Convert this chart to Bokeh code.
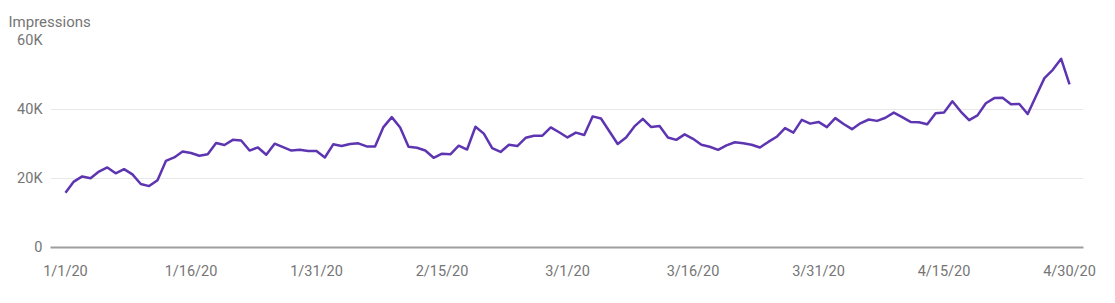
import pandas as pd
from bokeh.plotting import figure
from bokeh.models import FixedTicker, Range1d, ColumnDataSource
from bokeh.embed import file_html
from bokeh.resources import INLINE

# Daily impressions, 1 Jan 2020 - 30 Apr 2020 (thousands)
dates = pd.date_range("2020-01-01", "2020-04-30", freq="D")
impressions_k = [
    15.9, 19.1, 20.6, 20.1, 22.0, 23.2, 21.5, 22.7, 21.2, 18.4,
    17.8, 19.5, 25.1, 26.1, 27.8, 27.4, 26.6, 27.0, 30.3, 29.7,
    31.2, 31.0, 28.1, 29.0, 26.9, 30.1, 29.1, 28.1, 28.3, 28.0,
    28.0, 26.1, 29.9, 29.4, 30.0, 30.2, 29.3, 29.3, 34.9, 37.8,
    34.8, 29.2, 28.9, 28.1, 26.0, 27.2, 27.0, 29.5, 28.4, 35.0,
    33.0, 28.8, 27.7, 29.8, 29.4, 31.8, 32.4, 32.4, 34.8, 33.4,
    31.9, 33.3, 32.6, 38.0, 37.4, 33.7, 30.0, 31.9, 35.1, 37.3,
    34.9, 35.2, 31.9, 31.2, 32.8, 31.5, 29.8, 29.2, 28.3, 29.6,
    30.5, 30.2, 29.8, 29.0, 30.6, 32.1, 34.6, 33.3, 37.0, 35.9,
    36.4, 34.9, 37.5, 35.8, 34.3, 36.0, 37.1, 36.7, 37.6, 39.1,
    37.8, 36.4, 36.3, 35.7, 38.9, 39.1, 42.4, 39.4, 36.9, 38.3,
    41.8, 43.3, 43.4, 41.5, 41.6, 38.7, 43.9, 49.1, 51.5, 54.7,
    47.3,
]
impressions = [v * 1000 for v in impressions_k]
day_index = list(range(len(dates)))

x_tick_index = [0, 15, 30, 45, 60, 75, 90, 105, 120]
x_tick_labels = [f"{dates[i].month}/{dates[i].day}/{dates[i].year % 100}" for i in x_tick_index]
y_ticks = [0, 20000, 40000, 60000]
y_tick_labels = ["0", "20K", "40K", "60K"]
chart_title = "Impressions"

src = ColumnDataSource(dict(x=day_index, y=impressions))

p = figure(width=1115, height=303, output_backend="svg", toolbar_location=None,
           min_border_left=50, min_border_right=32, min_border_top=40, min_border_bottom=56,
           x_range=Range1d(-1.79, 121.67), y_range=Range1d(0, 60000))
p.outline_line_color = None
p.background_fill_color = "white"
p.border_fill_color = "white"

p.line("x", "y", source=src, line_color="#5e35b1", line_width=2.5, line_join="round")

FONT = "Roboto"
GREY = "#757575"

# x axis
xa = p.xaxis[0]
xa.ticker = FixedTicker(ticks=x_tick_index)
xa.major_label_overrides = {i: lab for i, lab in zip(x_tick_index, x_tick_labels)}
xa.axis_line_color = "#9e9e9e"
xa.axis_line_width = 2
xa.major_tick_line_color = None
xa.minor_tick_line_color = None
xa.major_tick_in = 0
xa.major_tick_out = 0
xa.major_label_standoff = 15
xa.major_label_text_font = FONT
xa.major_label_text_font_size = "14.5px"
xa.major_label_text_color = GREY

# y axis
ya = p.yaxis[0]
ya.ticker = FixedTicker(ticks=y_ticks)
ya.major_label_overrides = {t: lab for t, lab in zip(y_ticks, y_tick_labels)}
ya.axis_line_color = None
ya.major_tick_line_color = None
ya.minor_tick_line_color = None
ya.major_tick_in = 0
ya.major_tick_out = 0
ya.major_label_standoff = 8
ya.major_label_text_font = FONT
ya.major_label_text_font_size = "14.5px"
ya.major_label_text_color = GREY

p.xgrid.grid_line_color = None
p.ygrid.grid_line_color = "#e8e8e8"
p.ygrid.grid_line_width = 1

p.title.text = chart_title
p.title.text_font = FONT
p.title.text_font_size = "15px"
p.title.text_font_style = "normal"
p.title.text_color = GREY
p.title.align = "left"
p.title.offset = -42
p.title.standoff = 20

open("out.html", "w").write(file_html(p, INLINE))
